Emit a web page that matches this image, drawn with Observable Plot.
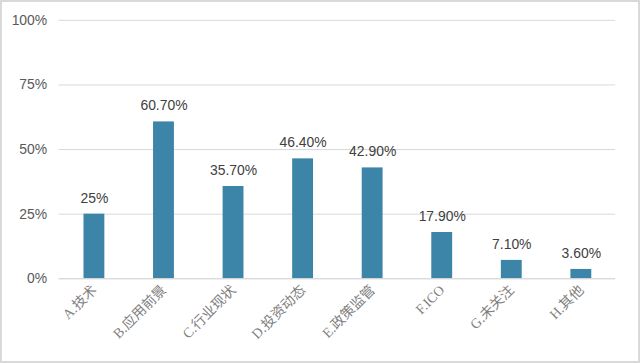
<!DOCTYPE html>
<html><head><meta charset="utf-8">
<script src="https://cdn.jsdelivr.net/npm/d3@7"></script>
<script src="https://cdn.jsdelivr.net/npm/@observablehq/plot@0.6"></script>
<style>
html,body{margin:0;padding:0;background:#fff;}
#chart{width:636px;height:359px;border:2px solid #d9d9d9;overflow:hidden;position:relative;}
#chart svg{position:absolute;left:-2px;top:-2px;}
</style></head>
<body><div id="chart"></div>
<script>
const categories = ["A.技术","B.应用前景","C.行业现状","D.投资动态","E.政策监管","F.ICO","G.未关注","H.其他"];
const values = [25, 60.7, 35.7, 46.4, 42.9, 17.9, 7.1, 3.6];
const valueLabels = ["25%","60.70%","35.70%","46.40%","42.90%","17.90%","7.10%","3.60%"];
const yTicks = [0, 25, 50, 75, 100];

const data = categories.map((c, i) => ({cat: c, v: values[i], label: valueLabels[i]}));

const chart = Plot.plot({
  width: 640, height: 363,
  marginTop: 20, marginBottom: 83, marginLeft: 59, marginRight: 21,
  style: {fontFamily: "'Liberation Sans', Arial, sans-serif", fontSize: "14px", color: "#595959", background: "transparent"},
  x: {domain: categories, paddingInner: 0.7, paddingOuter: 0.35, label: null},
  y: {domain: [0, 100], label: null},
  marks: [
    Plot.gridY(yTicks, {stroke: "#d9d9d9", strokeOpacity: 1, strokeWidth: 1}),
    Plot.barY(data, {x: "cat", y: "v", fill: "#3d85a8"}),
    Plot.ruleY([0], {stroke: "#d9d9d9", strokeWidth: 1}),
    Plot.text(data, {x: "cat", y: "v", text: "label", dy: -16, fontSize: 14, fill: "#404040"}),
    Plot.axisY({ticks: yTicks, tickFormat: d => d + "%", tickSize: 0, tickPadding: 12, fontSize: 14, fill: "#595959", label: null}),
    Plot.axisX({tickSize: 0, tickRotate: -45, tickPadding: 9, fontSize: 14, fill: "#7f7f7f", label: null,
      fontFamily: "'Liberation Serif', 'Noto Sans CJK SC', serif"})
  ]
});
document.getElementById("chart").appendChild(chart);
</script></body></html>
